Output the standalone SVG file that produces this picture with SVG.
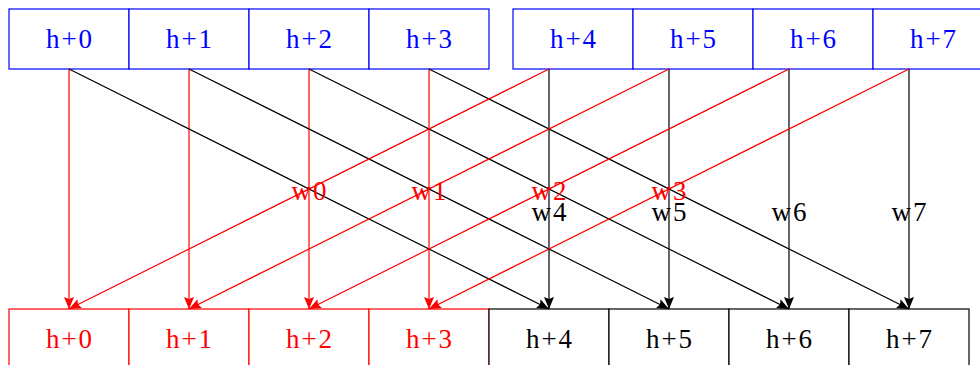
<svg xmlns="http://www.w3.org/2000/svg" width="980" height="365" viewBox="0 0 980 365">
<style>
text{font-family:"Liberation Serif","DejaVu Serif",serif;font-size:27px;letter-spacing:2px;text-anchor:middle}
.tb rect{fill:#fff;stroke:#0000ff;stroke-width:1.2}
.tb text{fill:#0000ff}
.br rect{fill:#fff;stroke:#ff0000;stroke-width:1.2}
.br text{fill:#ff0000}
.bk rect{fill:#fff;stroke:#000;stroke-width:1.2}
.bk text{fill:#000}
.r{stroke:#ff0000;stroke-width:1.2;fill:none;marker-end:url(#ar)}
.k{stroke:#000;stroke-width:1.2;fill:none;marker-end:url(#ak)}
.wr{fill:#ff0000}
.wk{fill:#000}
</style>
<defs>
<marker id="ar" markerUnits="userSpaceOnUse" markerWidth="14" markerHeight="12" refX="12" refY="5" orient="auto"><path d="M0,0 L12,5 L0,10 L2,5 z" fill="#ff0000"/></marker>
<marker id="ak" markerUnits="userSpaceOnUse" markerWidth="14" markerHeight="12" refX="12" refY="5" orient="auto"><path d="M0,0 L12,5 L0,10 L2,5 z" fill="#000"/></marker>
</defs>
<g id="top-h0" class="tb"><rect x="9" y="9" width="120" height="60"/><text x="70" y="48">h+0</text></g>
<g id="top-h1" class="tb"><rect x="129" y="9" width="120" height="60"/><text x="190" y="48">h+1</text></g>
<g id="top-h2" class="tb"><rect x="249" y="9" width="120" height="60"/><text x="310" y="48">h+2</text></g>
<g id="top-h3" class="tb"><rect x="369" y="9" width="120" height="60"/><text x="430" y="48">h+3</text></g>
<g id="top-h4" class="tb"><rect x="513" y="9" width="120" height="60"/><text x="574" y="48">h+4</text></g>
<g id="top-h5" class="tb"><rect x="633" y="9" width="120" height="60"/><text x="694" y="48">h+5</text></g>
<g id="top-h6" class="tb"><rect x="753" y="9" width="120" height="60"/><text x="814" y="48">h+6</text></g>
<g id="top-h7" class="tb"><rect x="873" y="9" width="120" height="60"/><text x="934" y="48">h+7</text></g>
<g id="bot-h0" class="br"><rect x="9" y="309" width="120" height="70"/><text x="70" y="348">h+0</text></g>
<g id="bot-h1" class="br"><rect x="129" y="309" width="120" height="70"/><text x="190" y="348">h+1</text></g>
<g id="bot-h2" class="br"><rect x="249" y="309" width="120" height="70"/><text x="310" y="348">h+2</text></g>
<g id="bot-h3" class="br"><rect x="369" y="309" width="120" height="70"/><text x="430" y="348">h+3</text></g>
<g id="bot-h4" class="bk"><rect x="489" y="309" width="120" height="70"/><text x="550" y="348">h+4</text></g>
<g id="bot-h5" class="bk"><rect x="609" y="309" width="120" height="70"/><text x="670" y="348">h+5</text></g>
<g id="bot-h6" class="bk"><rect x="729" y="309" width="120" height="70"/><text x="790" y="348">h+6</text></g>
<g id="bot-h7" class="bk"><rect x="849" y="309" width="120" height="70"/><text x="910" y="348">h+7</text></g>
<g id="connectors">
<line class="r" x1="69" y1="69" x2="69" y2="309"/>
<line class="r" x1="189" y1="69" x2="189" y2="309"/>
<line class="r" x1="309" y1="69" x2="309" y2="309"/>
<line class="r" x1="429" y1="69" x2="429" y2="309"/>
<line class="k" x1="69" y1="69" x2="549" y2="309"/>
<line class="k" x1="189" y1="69" x2="669" y2="309"/>
<line class="k" x1="309" y1="69" x2="789" y2="309"/>
<line class="k" x1="429" y1="69" x2="909" y2="309"/>
<line class="k" x1="549" y1="69" x2="549" y2="309"/>
<line class="k" x1="669" y1="69" x2="669" y2="309"/>
<line class="k" x1="789" y1="69" x2="789" y2="309"/>
<line class="k" x1="909" y1="69" x2="909" y2="309"/>
<line class="r" x1="549" y1="69" x2="69" y2="309"/>
<line class="r" x1="669" y1="69" x2="189" y2="309"/>
<line class="r" x1="789" y1="69" x2="309" y2="309"/>
<line class="r" x1="909" y1="69" x2="429" y2="309"/>
</g>
<g id="labels">
<text class="wr" x="310" y="200">w0</text>
<text class="wr" x="430" y="200">w1</text>
<text class="wr" x="550" y="200">w2</text>
<text class="wr" x="670" y="200">w3</text>
<text class="wk" x="550" y="221">w4</text>
<text class="wk" x="670" y="221">w5</text>
<text class="wk" x="790" y="221">w6</text>
<text class="wk" x="910" y="221">w7</text>
</g>
</svg>
